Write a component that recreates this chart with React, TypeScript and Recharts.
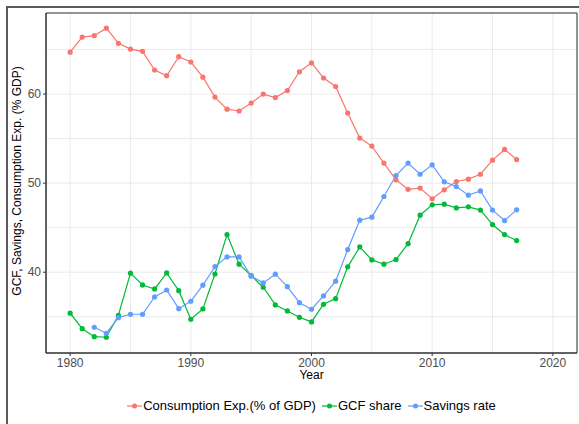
import React from 'react';
import { LineChart, Line, XAxis, YAxis, CartesianGrid, Legend, ReferenceArea } from 'recharts';

const years = [1980, 1981, 1982, 1983, 1984, 1985, 1986, 1987, 1988, 1989, 1990, 1991, 1992, 1993, 1994, 1995, 1996, 1997, 1998, 1999, 2000, 2001, 2002, 2003, 2004, 2005, 2006, 2007, 2008, 2009, 2010, 2011, 2012, 2013, 2014, 2015, 2016, 2017];

const consumption = [64.7, 66.4, 66.55, 67.4, 65.7, 65.05, 64.8, 62.7, 62.06, 64.2, 63.6, 61.9, 59.66, 58.3, 58.1, 58.99, 60.0, 59.6, 60.4, 62.5, 63.5, 61.8, 60.85, 57.87, 55.06, 54.16, 52.25, 50.37, 49.3, 49.44, 48.24, 49.25, 50.18, 50.45, 51.0, 52.58, 53.78, 52.65];

const gcfShare = [35.4, 33.66, 32.76, 32.7, 35.17, 39.89, 38.57, 38.12, 39.92, 37.93, 34.72, 35.88, 39.8, 44.22, 40.9, 39.62, 38.31, 36.33, 35.65, 34.94, 34.42, 36.4, 37.03, 40.6, 42.84, 41.38, 40.9, 41.42, 43.2, 46.4, 47.56, 47.64, 47.22, 47.34, 46.97, 45.35, 44.22, 43.55];

const savingsRate = [null, null, 33.82, 33.15, 34.9, 35.28, 35.28, 37.22, 38.0, 35.91, 36.74, 38.54, 40.63, 41.72, 41.72, 39.55, 38.8, 39.78, 38.38, 36.58, 35.84, 37.34, 38.99, 42.54, 45.84, 46.18, 48.5, 50.85, 52.25, 51.0, 52.06, 50.15, 49.62, 48.65, 49.13, 46.97, 45.8, 47.0];

const xTicks = [1980, 1985, 1990, 1995, 2000, 2005, 2010, 2015, 2020];
const xMajor = [1980, 1990, 2000, 2010, 2020];
const yTicks = [35, 40, 45, 50, 55, 60, 65];
const yMajor = [40, 50, 60];
const xDomain = [1978, 2022];
const yDomain = [30.93, 69.1];

const seriesNames = ['Consumption Exp.(% of GDP)', 'GCF share', 'Savings rate'];
const seriesKeys = ['consumption', 'gcf', 'savings'];
const seriesColors = ['#F8766D', '#00BA38', '#619CFF'];

const data = years.map((y, i) => ({
  year: y,
  consumption: consumption[i],
  gcf: gcfShare[i],
  savings: savingsRate[i],
}));

const FONT = '"Liberation Sans", Arial, Helvetica, sans-serif';

const XTick = (props: any) => {
  const { x, y, payload } = props;
  if (!xMajor.includes(payload.value)) return <g />;
  return (
    <g>
      <line x1={x} x2={x} y1={y} y2={y + 3} stroke="#333333" strokeWidth={1} />
      <text x={x} y={y + 13.5} textAnchor="middle" fill="#4D4D4D" fontSize={12} fontFamily={FONT}>
        {payload.value}
      </text>
    </g>
  );
};

const YTick = (props: any) => {
  const { x, y, payload } = props;
  if (!yMajor.includes(payload.value)) return <g />;
  return (
    <g>
      <line x1={x - 3} x2={x} y1={y} y2={y} stroke="#333333" strokeWidth={1} />
      <text x={x - 5} y={y + 4} textAnchor="end" fill="#4D4D4D" fontSize={12} fontFamily={FONT}>
        {payload.value}
      </text>
    </g>
  );
};

const YTitle = (props: any) => {
  const vb = props.viewBox || {};
  const cx = (vb.x ?? 10) + 7;
  const cy = (vb.y ?? 13) + (vb.height ?? 340) / 2 - 2;
  return (
    <text x={cx} y={cy} transform={`rotate(-90 ${cx} ${cy})`} textAnchor="middle" dominantBaseline="central" fill="#000000" fontSize={12} fontFamily={FONT}>
      GCF, Savings, Consumption Exp. (% GDP)
    </text>
  );
};

const XTitle = (props: any) => {
  const vb = props.viewBox || {};
  const cx = (vb.x ?? 46) + (vb.width ?? 531) / 2;
  const cy = (vb.y ?? 353) + 26;
  return (
    <text x={cx} y={cy} textAnchor="middle" fill="#000000" fontSize={12} fontFamily={FONT}>
      Year
    </text>
  );
};

const LegendContent = () => (
  <div style={{ display: 'flex', justifyContent: 'center', alignItems: 'center', fontFamily: FONT, fontSize: 13, color: '#000' }}>
    {seriesNames.map((n, i) => (
      <div key={n} style={{ display: 'flex', alignItems: 'center', marginRight: i < seriesNames.length - 1 ? 6 : 0 }}>
        <svg width={15} height={10} style={{ marginRight: 1 }}>
          <line x1={0} x2={15} y1={5} y2={5} stroke={seriesColors[i]} strokeWidth={1.2} />
          <circle cx={7.5} cy={5} r={2.5} fill={seriesColors[i]} />
        </svg>
        <span>{n}</span>
      </div>
    ))}
  </div>
);

export default function App() {
  return (
    <div style={{ position: 'absolute', left: 0, top: 0, width: 579, height: 424, background: '#fff', overflow: 'hidden' }}>
      <div style={{ position: 'absolute', left: 6, top: 6, width: 700, height: 700, borderLeft: '2px solid #5a5a5a', borderTop: '2px solid #5a5a5a' }} />
      <div style={{ position: 'absolute', left: 0, top: 0 }}>
        <LineChart width={579} height={424} data={data} margin={{ top: 13, right: 2, left: 10, bottom: 6 }}>
          <CartesianGrid stroke="#EBEBEB" strokeWidth={1} />
          <XAxis
            dataKey="year"
            type="number"
            domain={xDomain}
            ticks={xTicks}
            allowDataOverflow
            interval={0}
            height={45}
            tickLine={false}
            tickSize={0}
            tickMargin={0}
            axisLine={{ stroke: '#333333' }}
            tick={<XTick />}
            label={{ content: <XTitle /> }}
          />
          <YAxis
            type="number"
            domain={yDomain}
            ticks={yTicks}
            allowDataOverflow
            interval={0}
            width={36}
            tickLine={false}
            tickSize={0}
            tickMargin={0}
            axisLine={{ stroke: '#333333' }}
            tick={<YTick />}
            label={{ content: <YTitle /> }}
          />
          <ReferenceArea x1={xDomain[0]} x2={xDomain[1]} y1={yDomain[0]} y2={yDomain[1]} fill="none" fillOpacity={0} stroke="#333333" strokeWidth={1} ifOverflow="visible" />
          {seriesKeys.map((k, i) => (
            <Line
              key={k}
              type="linear"
              dataKey={k}
              name={seriesNames[i]}
              stroke={seriesColors[i]}
              strokeWidth={1.2}
              dot={{ r: 2.6, fill: seriesColors[i], stroke: seriesColors[i], strokeWidth: 0 }}
              activeDot={false}
              isAnimationActive={false}
              connectNulls={false}
            />
          ))}
          <Legend verticalAlign="bottom" height={20} content={<LegendContent />} wrapperStyle={{ left: 46, width: 531 }} />
        </LineChart>
      </div>
    </div>
  );
}
